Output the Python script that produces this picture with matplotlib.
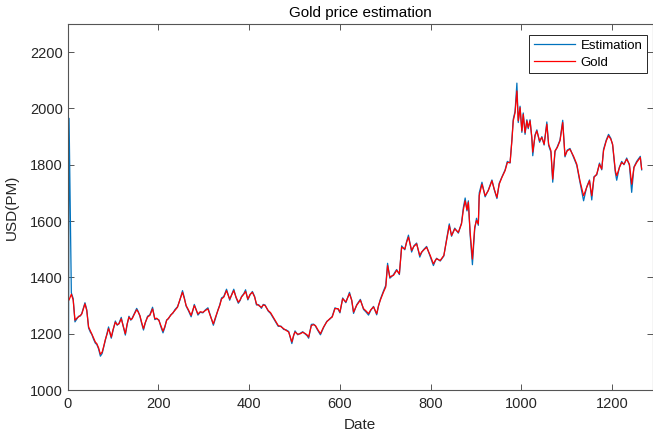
import matplotlib
matplotlib.use("Agg")
import matplotlib.pyplot as plt

plt.rcParams['font.family'] = ['Liberation Sans', 'DejaVu Sans']

# trading day index, gold PM fix and model estimate (USD)
days = [0, 3, 8, 12, 16, 20, 24, 28, 31, 35,
        38, 42, 46, 50, 53, 57, 61, 64, 68, 72,
        76, 79, 83, 87, 90, 93, 96, 100, 105, 109,
        113, 118, 122, 127, 131, 135, 139, 142, 147, 152,
        155, 159, 163, 167, 171, 176, 181, 187, 192, 196,
        201, 205, 210, 214, 218, 222, 227, 232, 236, 242,
        247, 253, 257, 261, 266, 272, 276, 279, 283, 287,
        292, 298, 303, 309, 315, 321, 326, 331, 335, 339,
        344, 350, 354, 357, 362, 366, 371, 376, 380, 383,
        388, 392, 397, 402, 407, 412, 416, 421, 427, 431,
        435, 442, 447, 453, 458, 464, 470, 476, 481, 487,
        494, 498, 501, 507, 513, 518, 524, 528, 531, 537,
        542, 546, 551, 557, 564, 571, 578, 583, 589, 596,
        600, 606, 613, 621, 626, 630, 637, 645, 652, 658,
        663, 668, 674, 681, 685, 689, 696, 701, 705, 710,
        714, 718, 725, 731, 736, 743, 747, 751, 758, 763,
        769, 776, 780, 784, 791, 799, 806, 810, 813, 821,
        829, 835, 841, 846, 853, 861, 868, 872, 876, 880,
        883, 887, 892, 897, 901, 905, 907, 913, 920, 927,
        935, 940, 946, 951, 957, 964, 969, 975, 979, 982,
        986, 990, 993, 997, 1001, 1004, 1008, 1012, 1015, 1019,
        1023, 1025, 1030, 1034, 1040, 1045, 1050, 1056, 1060, 1065,
        1069, 1074, 1079, 1085, 1091, 1096, 1101, 1107, 1115, 1122,
        1129, 1137, 1144, 1150, 1155, 1160, 1166, 1172, 1177, 1181,
        1187, 1192, 1197, 1201, 1207, 1210, 1216, 1221, 1226, 1232,
        1238, 1243, 1248, 1254, 1262, 1265]

gold = [1315, 1320, 1340, 1320, 1248, 1255, 1260, 1265, 1270, 1290,
        1306, 1282, 1224, 1210, 1200, 1185, 1170, 1165, 1150, 1127,
        1135, 1153, 1180, 1200, 1218, 1205, 1188, 1215, 1241, 1232,
        1235, 1253, 1230, 1200, 1235, 1259, 1250, 1253, 1270, 1285,
        1278, 1265, 1240, 1218, 1240, 1259, 1265, 1288, 1253, 1255,
        1247, 1230, 1209, 1225, 1247, 1255, 1265, 1275, 1282, 1294,
        1320, 1347, 1325, 1300, 1285, 1265, 1285, 1300, 1285, 1270,
        1278, 1276, 1282, 1288, 1260, 1235, 1260, 1282, 1300, 1323,
        1330, 1353, 1335, 1323, 1340, 1353, 1330, 1312, 1320, 1330,
        1340, 1350, 1323, 1340, 1347, 1330, 1306, 1300, 1294, 1302,
        1300, 1282, 1275, 1259, 1245, 1229, 1225, 1218, 1212, 1206,
        1171, 1195, 1206, 1198, 1200, 1205, 1200, 1195, 1188, 1229,
        1232, 1229, 1215, 1200, 1224, 1242, 1254, 1259, 1289, 1289,
        1277, 1324, 1313, 1342, 1319, 1277, 1301, 1319, 1289, 1280,
        1271, 1285, 1295, 1271, 1300, 1319, 1348, 1366, 1442, 1401,
        1405, 1407, 1425, 1413, 1507, 1501, 1525, 1543, 1496, 1510,
        1519, 1478, 1490, 1496, 1507, 1478, 1448, 1460, 1466, 1460,
        1478, 1531, 1584, 1549, 1572, 1560, 1590, 1640, 1672, 1640,
        1667, 1560, 1465, 1578, 1602, 1590, 1690, 1731, 1690, 1708,
        1743, 1714, 1684, 1731, 1755, 1779, 1808, 1808, 1885, 1956,
        1985, 2062, 1956, 2003, 1920, 1979, 1914, 1956, 1932, 1956,
        1897, 1845, 1903, 1920, 1885, 1897, 1873, 1944, 1873, 1850,
        1749, 1850, 1861, 1885, 1950, 1832, 1850, 1855, 1830, 1802,
        1743, 1690, 1720, 1743, 1690, 1755, 1767, 1802, 1785, 1850,
        1885, 1903, 1891, 1873, 1779, 1761, 1790, 1808, 1802, 1820,
        1802, 1731, 1790, 1808, 1826, 1785]

estimation = [0, 1965, 1345, 1325, 1242, 1252, 1262, 1263, 1272, 1293,
              1310, 1285, 1220, 1205, 1198, 1180, 1166, 1162, 1146, 1120,
              1130, 1150, 1178, 1203, 1224, 1202, 1184, 1212, 1245, 1230,
              1237, 1258, 1228, 1195, 1232, 1262, 1248, 1255, 1272, 1290,
              1280, 1263, 1236, 1213, 1238, 1262, 1267, 1294, 1250, 1253,
              1249, 1226, 1203, 1222, 1249, 1253, 1267, 1273, 1285, 1296,
              1318, 1353, 1328, 1298, 1282, 1260, 1283, 1304, 1286, 1266,
              1276, 1274, 1284, 1292, 1262, 1230, 1256, 1284, 1302, 1327,
              1332, 1358, 1337, 1319, 1342, 1358, 1328, 1308, 1318, 1332,
              1342, 1356, 1320, 1338, 1350, 1332, 1302, 1303, 1290, 1304,
              1302, 1280, 1272, 1256, 1243, 1226, 1227, 1215, 1214, 1208,
              1165, 1193, 1210, 1196, 1202, 1207, 1198, 1192, 1184, 1233,
              1234, 1227, 1212, 1196, 1222, 1244, 1252, 1262, 1292, 1287,
              1274, 1327, 1310, 1347, 1318, 1272, 1303, 1322, 1286, 1276,
              1266, 1283, 1297, 1267, 1298, 1322, 1352, 1372, 1450, 1397,
              1403, 1410, 1428, 1410, 1512, 1498, 1528, 1550, 1490, 1512,
              1522, 1472, 1488, 1498, 1510, 1474, 1442, 1458, 1468, 1458,
              1476, 1535, 1590, 1546, 1575, 1557, 1594, 1648, 1682, 1636,
              1672, 1550, 1445, 1570, 1610, 1585, 1700, 1738, 1686, 1710,
              1746, 1712, 1680, 1734, 1757, 1782, 1812, 1806, 1890, 1962,
              1990, 2090, 1950, 2008, 1915, 1984, 1908, 1960, 1928, 1960,
              1892, 1832, 1906, 1924, 1880, 1900, 1870, 1952, 1868, 1845,
              1738, 1846, 1864, 1888, 1958, 1828, 1852, 1858, 1826, 1798,
              1738, 1672, 1722, 1746, 1675, 1758, 1764, 1806, 1782, 1855,
              1888, 1908, 1894, 1870, 1772, 1745, 1792, 1812, 1800, 1824,
              1798, 1702, 1792, 1812, 1830, 1782]

xticks = [0, 200, 400, 600, 800, 1000, 1200]
yticks = [1000, 1200, 1400, 1600, 1800, 2000, 2200]

fig = plt.figure(figsize=(6.53, 4.33), dpi=100)
ax = fig.add_axes([0.1037, 0.0993, 0.8963, 0.8453])

ax.plot(days, estimation, color='#0072BD', lw=0.9, label='Estimation')
ax.plot(days, gold, color='#FF0000', lw=0.9, label='Gold')

ax.set_xlim(0, 1290)
ax.set_ylim(1000, 2300)
ax.set_xticks(xticks)
ax.set_yticks(yticks)

dark = '#262626'
for s in ax.spines.values():
    s.set_color('#555555')
    s.set_linewidth(0.8)
ax.tick_params(direction='in', top=True, right=True, length=4, width=0.7,
               color='#555555', labelcolor=dark, labelsize=10.5)
ax.tick_params(axis='x', pad=5)

ax.set_title('Gold price estimation', fontsize=11, color='black', pad=5)
ax.set_xlabel('Date', fontsize=11, color=dark, labelpad=5)
ax.set_ylabel('USD(PM)', fontsize=11, color=dark, labelpad=8)

leg = ax.legend(loc='upper right', bbox_to_anchor=(0.9897, 0.970),
                borderaxespad=0, fancybox=False, framealpha=1,
                edgecolor=dark, fontsize=9.5, handlelength=3.1,
                handletextpad=0.45, labelspacing=0.35, borderpad=0.35)
leg.get_frame().set_linewidth(0.7)

fig.savefig('out.png', dpi=100)
